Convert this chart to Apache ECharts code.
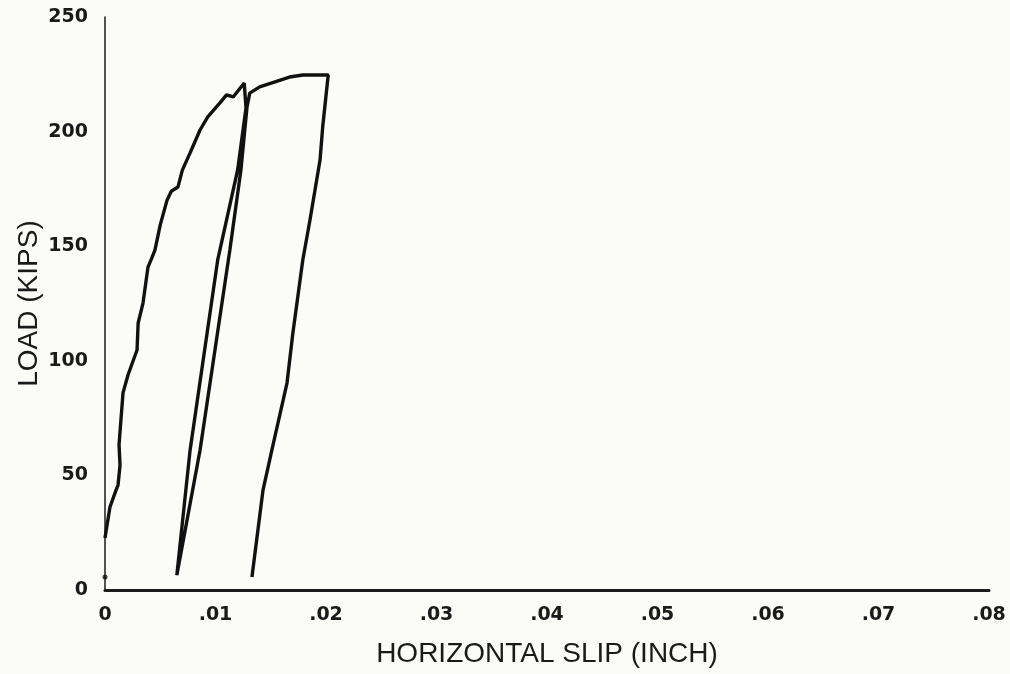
<!DOCTYPE html>
<html>
<head>
<meta charset="utf-8">
<script src="https://cdn.jsdelivr.net/npm/echarts@6/dist/echarts.min.js"></script>
<style>
html,body{margin:0;padding:0;background:#fbfbf7;}
#chart{width:1010px;height:674px;}
</style>
</head>
<body>
<div id="chart"></div>
<script>
// Horizontal slip (inch) and load (kips)
const loadingX = [0, 0.00045, 0.001, 0.00118, 0.00136, 0.00127, 0.00163, 0.00208, 0.0029, 0.003, 0.00344, 0.00389, 0.00425, 0.00452, 0.0050, 0.00561, 0.0060, 0.0066, 0.0070, 0.0077, 0.0086, 0.0093, 0.0104, 0.0110, 0.0116, 0.0126];
const loadingY = [22.7, 36.2, 43.6, 45.8, 54.5, 63.3, 86, 93.8, 104.7, 116.5, 125.2, 140.9, 145, 148.3, 159.3, 170, 174, 175.8, 183.2, 190.7, 200.7, 206.4, 212.5, 216, 215.1, 221.2];
const unload1X = [0.0126, 0.01276, 0.0120, 0.0102, 0.0077, 0.0065];
const unload1Y = [221.2, 210.3, 183.2, 144, 61, 6.5];
const reloadX = [0.0065, 0.0086, 0.0113, 0.0123, 0.01285, 0.0131, 0.0140, 0.0167, 0.0179, 0.0202];
const reloadY = [6.5, 61, 148.3, 183.2, 210.7, 216.8, 219.5, 223.8, 224.7, 224.7];
const unload2X = [0.0202, 0.0197, 0.01946, 0.01855, 0.0179, 0.0170, 0.01647, 0.0151, 0.0143, 0.0133];
const unload2Y = [224.7, 202, 187.6, 161.4, 144, 112, 90.3, 61, 43.6, 5.7];
const startX = [0];
const startY = [5.7];
const xTicks = [0, 0.01, 0.02, 0.03, 0.04, 0.05, 0.06, 0.07, 0.08];
const yTicks = [0, 50, 100, 150, 200, 250];

function pairs(xs, ys){ return xs.map((x,i)=>[x, ys[i]]); }
const path = [].concat(pairs(loadingX, loadingY), pairs(unload1X, unload1Y).slice(1), pairs(reloadX, reloadY).slice(1), pairs(unload2X, unload2Y).slice(1));

const chart = echarts.init(document.getElementById('chart'));
const lbl = {fontFamily:'DejaVu Sans', fontWeight:'bold', fontSize:19, color:'#1a1a1a'};
chart.setOption({
  backgroundColor:'#fbfbf7',
  animation:false,
  grid:{left:105, right:21, top:17, bottom:84, containLabel:false},
  xAxis:{
    type:'value', min:xTicks[0], max:xTicks[xTicks.length-1], interval:0.01,
    axisLine:{show:true, lineStyle:{color:'#1a1a1a', width:3}},
    axisTick:{show:false}, splitLine:{show:false},
    axisLabel:Object.assign({margin:16, formatter:v=> v===0?'0':'.'+String(Math.round(v*100)).padStart(2,'0')}, lbl),
    name:'HORIZONTAL SLIP (INCH)', nameLocation:'middle', nameGap:50, nameMoveOverlap:false,
    nameTextStyle:{fontFamily:'Liberation Sans', fontSize:28, color:'#1a1a1a'}
  },
  yAxis:{
    type:'value', min:yTicks[0], max:yTicks[yTicks.length-1], interval:50,
    axisLine:{show:true, lineStyle:{color:'#1a1a1a', width:1.5}},
    axisTick:{show:false}, splitLine:{show:false},
    axisLabel:Object.assign({margin:17}, lbl),
    name:'LOAD (KIPS)', nameLocation:'middle', nameGap:62, nameRotate:90, nameMoveOverlap:false,
    nameTextStyle:{fontFamily:'Liberation Sans', fontSize:28, color:'#1a1a1a'}
  },
  series:[
    {type:'line', data:path, showSymbol:false, lineStyle:{color:'#111', width:3.4}, smooth:false},
    {type:'scatter', data:pairs(startX, startY), symbolSize:5, itemStyle:{color:'#111'}}
  ]
});
</script>
</body>
</html>
